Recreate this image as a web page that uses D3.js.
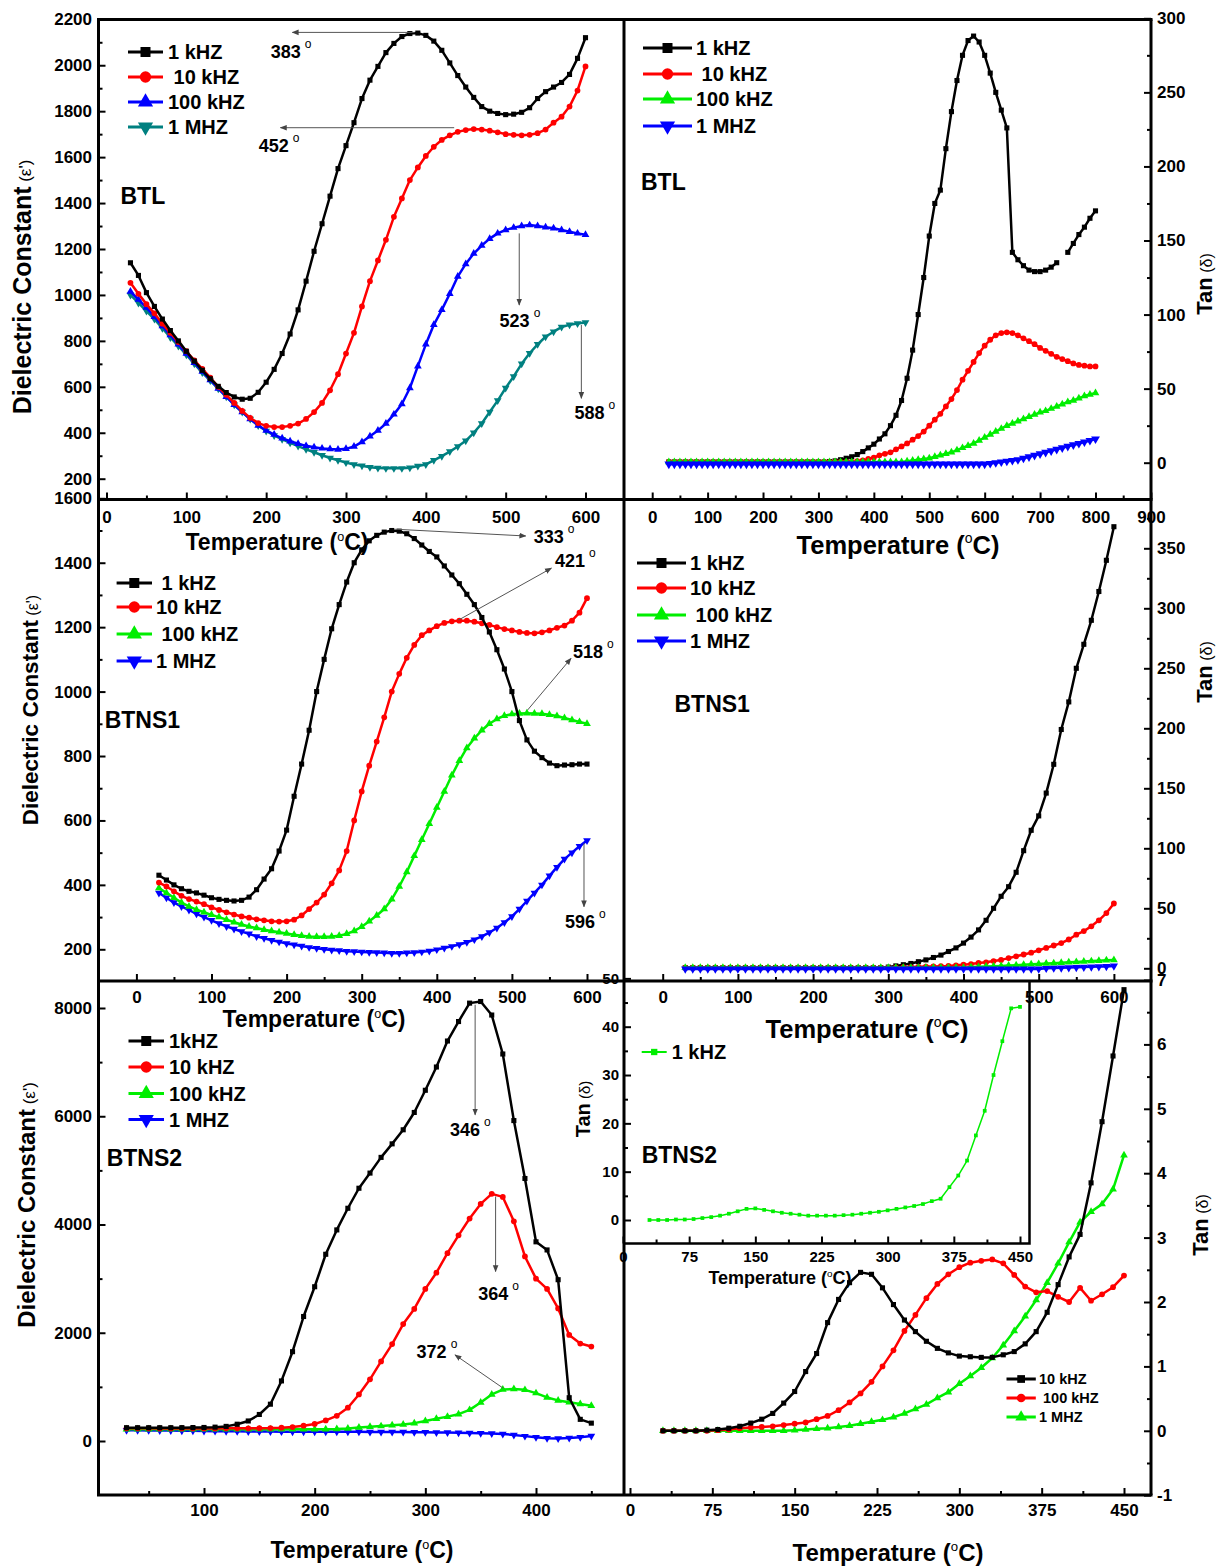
<!DOCTYPE html>
<html>
<head>
<meta charset="utf-8">
<script src="https://cdn.jsdelivr.net/npm/d3@7"></script>
<style>
body { margin: 0; background: #fff; }
</style>
</head>
<body>
<svg id="chart" width="1222" height="1566"></svg>
<script>
// ---- temperature grids (deg C) ----
var tempA = d3.range(30, 601, 10);   // BTL eps, BTNS1 eps, BTNS1 tan
var tempB = d3.range(30, 801, 10);   // BTL tan
var tempE = d3.range(30, 451, 10);   // BTNS2 eps, BTNS2 tan, inset

// ---- BTL dielectric constant ----
var btlEps1k = [1140,1085,1010,950,895,845,800,755,712,672,
  635,602,575,556,546,550,576,620,676,745,
  830,935,1060,1190,1310,1430,1550,1650,1750,1855,
  1935,1995,2055,2095,2125,2138,2140,2130,2105,2065,
  2010,1955,1905,1860,1820,1800,1790,1785,1787,1795,
  1815,1855,1885,1905,1925,1960,2030,2120];
var btlEps10k = [1053,1005,960,920,875,835,795,755,715,678,
  640,600,565,530,495,465,442,430,425,425,
  430,440,460,490,530,585,655,745,835,950,
  1060,1150,1240,1340,1420,1500,1555,1605,1645,1675,
  1695,1710,1718,1722,1720,1715,1708,1700,1697,1695,
  1697,1704,1720,1750,1776,1820,1890,1995];
var btlEps100k = [1015,980,945,905,865,825,785,745,705,667,
  630,593,557,522,490,460,432,410,392,376,
  363,352,343,337,332,329,327,330,340,360,
  385,410,440,480,525,595,690,785,870,935,
  1005,1080,1135,1180,1215,1245,1268,1283,1293,1300,
  1304,1300,1295,1290,1283,1275,1268,1262];
var btlEps1M = [1000,965,930,895,855,815,778,740,700,662,
  627,592,557,522,490,460,432,408,388,372,
  356,342,328,315,302,290,280,270,262,256,
  250,247,245,245,245,248,255,262,280,298,
  318,340,365,400,440,490,540,595,645,700,
  746,785,818,840,860,870,876,880];

// ---- BTL tan delta ----
var btlTan1k = [0.5,0.5,0.5,0.5,0.5,0.5,0.5,0.5,0.5,0.5,
  0.5,0.5,0.5,0.5,0.5,0.5,0.5,0.5,0.5,0.5,
  0.5,0.5,0.5,0.5,0.5,0.5,0.5,0.5,0.5,
  0.8,1.2,2,3,4,5.5,7.5,10,12.5,16,
  19.5,25,32,42,57,76,100,125,153,175,
  184,212,237,258,275,285,288,284,275,263,
  250,238,226,142,137,133,130,129,129,130,
  132,135,null,142,148,154,159,165,170];
var btlTan10k = [0.5,0.5,0.5,0.5,0.5,0.5,0.5,0.5,0.5,0.5,
  0.5,0.5,0.5,0.5,0.5,0.5,0.5,0.5,0.5,0.5,
  0.5,0.5,0.5,0.5,0.5,0.5,0.5,0.5,0.5,0.5,
  0.5,0.5,0.5,0.5,
  1,1.5,2.5,3.5,5,6,7,9,11,13,
  15.5,18,21,25,29,33,38,43,49,56,
  62,68,74,79,83,86,87.5,88,87.5,86,
  84,82,80,77.5,75.5,73.5,71.5,70,68.5,67,
  66,65.5,65,65];
var btlTan100k = [0.5,0.5,0.5,0.5,0.5,0.5,0.5,0.5,0.5,0.5,
  0.5,0.5,0.5,0.5,0.5,0.5,0.5,0.5,0.5,0.5,
  0.5,0.5,0.5,0.5,0.5,0.5,0.5,0.5,0.5,0.5,
  0.5,0.5,0.5,0.5,0.5,0.5,0.5,0.5,0.5,0.5,
  0.5,0.5,0.5,
  1,1.5,2,2.5,3,4,5,6,7,8.5,
  10,11.5,13,15,17,19,21,23,25,26.5,
  28,29.5,31,32.5,34,35,36.5,38,39.5,41,
  42,43.5,45,46,47];
var btlTan1M = [-1,-1,-1,-1,-1,-1,-1,-1,-1,-1,
  -1,-1,-1,-1,-1,-1,-1,-1,-1,-1,
  -1,-1,-1,-1,-1,-1,-1,-1,-1,-1,
  -1,-1,-1,-1,-1,-1,-1,-1,-1,-1,
  -1,-1,-1,-1,-1,-1,-1,-1,-1,-1,
  -1,-1,-1,-1,-1,-1,-1,-1,
  -0.5,0,0.5,1,1.5,2,3,4,5,6,
  7,8,9,10,11,12,13,14,15,16];

// ---- BTNS1 dielectric constant ----
var btns1Eps1k = [430,415,400,388,380,375,368,360,355,352,
  350,352,362,385,418,450,505,570,675,775,
  880,1000,1100,1195,1270,1340,1400,1440,1468,1485,
  1495,1500,1498,1490,1475,1455,1435,1418,1390,1362,
  1335,1302,1270,1230,1185,1130,1070,1000,910,850,
  815,795,778,770,772,773,775,775];
var btns1Eps10k = [407,395,380,366,356,348,340,330,322,315,
  308,302,298,293,290,287,286,287,292,305,
  325,345,370,405,445,505,600,690,770,845,
  920,1000,1055,1105,1145,1175,1190,1203,1213,1218,
  1220,1220,1217,1212,1207,1200,1194,1190,1185,1182,
  1181,1184,1190,1198,1205,1220,1245,1290];
var btns1Eps100k = [390,375,360,345,333,323,315,307,300,292,
  284,277,271,266,261,257,253,249,245,242,
  240,239,239,240,242,248,257,270,287,305,
  325,355,395,440,490,540,590,640,690,740,
  785,825,855,880,900,915,925,930,932,933,
  932,931,928,924,918,912,906,900];
var btns1Eps1M = [375,360,345,333,322,310,300,290,280,271,
  263,255,248,240,234,228,223,218,214,210,
  206,203,200,198,196,194,193,192,191,190,
  189,188,188,189,190,192,195,199,204,209,
  215,222,230,240,252,266,283,302,325,350,
  375,400,428,455,480,500,520,538];

// ---- BTNS1 tan delta ----
var btns1Tan1k = [0.5,0.5,0.5,0.5,0.5,0.5,0.5,0.5,0.5,0.5,
  0.5,0.5,0.5,0.5,0.5,0.5,0.5,0.5,0.5,0.5,
  0.5,0.5,0.5,0.5,0.5,0.5,0.5,
  1,2,3,
  4,5.5,7,9,11,14,17,21,26,32,
  40,50,60,68,80,98,115,127,146,170,
  199,222,250,270,290,314,340,368];
var btns1Tan10k = [0.5,0.5,0.5,0.5,0.5,0.5,0.5,0.5,0.5,0.5,
  0.5,0.5,0.5,0.5,0.5,0.5,0.5,0.5,0.5,0.5,
  0.5,0.5,0.5,0.5,0.5,0.5,0.5,
  0.5,0.7,0.9,1,1.2,1.4,1.6,1.8,
  2,2.5,3,3.5,4.5,5,6,7,8.5,10,
  11.5,13,15,17,19,21,24,28,31,35,
  40,46,54];
var btns1Tan100k = [0.5,0.5,0.5,0.5,0.5,0.5,0.5,0.5,0.5,0.5,
  0.5,0.5,0.5,0.5,0.5,0.5,0.5,0.5,0.5,0.5,
  0.5,0.5,0.5,0.5,0.5,0.5,0.5,0.5,0.5,0.5,
  0.5,0.5,0.5,0.5,0.5,0.5,0.5,0.5,
  1,1.2,1.5,1.8,2,2.3,2.6,3,3.3,3.6,
  4,4.3,4.6,5,5.3,5.6,6,6.3,6.7,7];
var btns1Tan1M = [-0.5,-0.5,-0.5,-0.5,-0.5,-0.5,-0.5,-0.5,-0.5,-0.5,
  -0.5,-0.5,-0.5,-0.5,-0.5,-0.5,-0.5,-0.5,-0.5,-0.5,
  -0.5,-0.5,-0.5,-0.5,-0.5,-0.5,-0.5,-0.5,-0.5,-0.5,
  -0.5,-0.5,-0.5,-0.5,-0.5,-0.5,-0.5,-0.5,-0.5,-0.5,
  -0.5,-0.5,-0.5,-0.5,-0.5,-0.5,-0.5,-0.5,
  0,0.2,0.4,0.6,0.8,1,1.2,1.4,1.6,2];

// ---- BTNS2 dielectric constant ----
var btns2Eps1k = [246,246,246,246,246,247,248,250,256,270,
  310,370,490,680,1110,1650,2300,2850,3450,3900,
  4300,4670,4950,5240,5490,5750,6070,6480,6910,7390,
  7750,8090,8120,7870,7150,5920,4850,3680,3530,2980,
  800,400,330];
var btns2Eps10k = [235,235,234,233,232,232,232,232,232,234,
  235,235,236,238,245,258,282,315,380,465,
  615,860,1140,1470,1790,2160,2440,2810,3110,3470,
  3800,4110,4380,4566,4510,4060,3410,3000,2810,2450,
  1960,1800,1745];
var btns2Eps100k = [218,218,217,217,216,216,215,215,215,215,
  215,215,215,215,215,215,215,215,216,220,
  230,248,262,275,290,305,330,370,410,450,
  495,575,710,860,950,960,945,885,805,750,
  715,685,650];
var btns2Eps1M = [200,198,196,194,192,190,188,185,182,180,
  178,176,175,174,173,172,172,171,170,170,
  170,169,168,167,166,165,163,160,158,155,
  152,148,145,140,130,112,90,70,52,48,
  55,70,92];

// ---- BTNS2 tan delta ----
var btns2Tan10k = [0,0,0,0,0.01,0.02,0.04,0.07,0.12,0.18,
  0.27,0.43,0.61,0.92,1.2,1.68,2.04,2.3,2.46,2.43,
  2.22,1.96,1.72,1.54,1.39,1.28,1.21,1.16,1.15,1.14,
  1.14,1.18,1.23,1.35,1.54,1.84,2.27,2.7,3.05,3.85,
  4.8,5.82,6.85];
var btns2Tan100k = [0,0,0,0,0,0.01,0.02,0.04,0.05,0.06,
  0.07,0.09,0.11,0.13,0.18,0.23,0.32,0.44,0.58,0.76,
  1.0,1.25,1.55,1.8,2.06,2.28,2.43,2.54,2.61,2.64,
  2.66,2.6,2.42,2.24,2.15,2.17,2.08,2.0,2.22,2.02,
  2.12,2.23,2.41];
var btns2Tan1M = [0,0,0,0,0,0,0,0,0,0,
  0,0,0.01,0.02,0.03,0.04,0.06,0.08,0.11,0.14,
  0.17,0.21,0.27,0.34,0.41,0.51,0.6,0.73,0.85,0.98,
  1.13,1.33,1.55,1.78,2.03,2.3,2.6,2.93,3.24,3.4,
  3.52,3.75,4.28];
// inset: BTNS2 tan delta at 1 kHZ
var btns2TanInset1k = [0,0,0,0.1,0.1,0.2,0.4,0.6,0.9,1.3,
  1.8,2.3,2.4,2.1,1.8,1.5,1.3,1.1,0.9,0.9,
  0.9,0.9,1.0,1.1,1.3,1.5,1.7,2.0,2.3,2.6,
  2.9,3.3,3.9,4.4,6.8,9.2,12.3,17.5,22.6,30,
  37,43.8,44.1];

// ---- legend labels ----
var legA = ["1 kHZ", "\u00a010 kHZ", "100 kHZ", "1 MHZ"];
var legB = ["1 kHZ", "\u00a010 kHZ", "100 kHZ", "1 MHZ"];
var legC = ["\u00a01 kHZ", "10 kHZ", "\u00a0100 kHZ", "1 MHZ"];
var legD = ["1 kHZ", "10 kHZ", "\u00a0100 kHZ", "1 MHZ"];
var legE = ["1kHZ", "10 kHZ", "100 kHZ", "1 MHZ"];
var legF = ["10 kHZ", "\u00a0100 kHZ", "1 MHZ"];
var legInset = ["1 kHZ"];

// ---- peak annotations (data coords) ----
var annA = [
  {label: "383", tx: 205.6, tv: 2031, x1: 386, v1: 2143, x2: 232.8, v2: 2143},
  {label: "452", tx: 190.8, tv: 1622, x1: 435.5, v1: 1728, x2: 217.9, v2: 1728},
  {label: "523", tx: 492.4, tv: 860, x1: 517, v1: 1268, x2: 517, v2: 956},
  {label: "588", tx: 586.2, tv: 460, x1: 594.8, v1: 869, x2: 594.8, v2: 550}
];
var annC = [
  {label: "333", tx: 529, tv: 1461, x1: 344.7, v1: 1504, x2: 518.4, v2: 1483},
  {label: "421", tx: 557.4, tv: 1387, x1: 428.9, v1: 1222, x2: 552.6, v2: 1383},
  {label: "518", tx: 581.4, tv: 1104, x1: 521, v1: 943, x2: 578.7, v2: 1103},
  {label: "596", tx: 570.7, tv: 266, x1: 596, v1: 529, x2: 596, v2: 332}
];
var annE = [
  {label: "346", tx: 322.2, tv: 5626, x1: 345, v1: 8060, x2: 345, v2: 6026},
  {label: "364", tx: 347.8, tv: 2614, x1: 363.5, v1: 4517, x2: 363.5, v2: 3131},
  {label: "372", tx: 292.1, tv: 1533, x1: 370.4, v1: 975, x2: 326.8, v2: 1591}
];

var BLACK = "#000000", RED = "#ff0000", BLUE = "#0000ff", GREEN = "#00ee00", TEAL = "#008080";
var FONT = "'Liberation Sans', Arial, Helvetica, sans-serif";

var svg = d3.select("#chart")
  .attr("font-family", FONT)
  .attr("font-weight", "bold");

svg.append("defs").append("marker")
  .attr("id", "arrow")
  .attr("viewBox", "0 0 10 10")
  .attr("refX", 9).attr("refY", 5)
  .attr("markerWidth", 7).attr("markerHeight", 7)
  .attr("orient", "auto")
  .append("path").attr("d", "M0,1L10,5L0,9z").attr("fill", "#444");

// frame edges
var L = 98.5, M = 624, R = 1151, T = 19.5, R1 = 499.5, R2 = 981, B = 1495;

function lin(v1, p1, v2, p2) { return d3.scaleLinear().domain([v1, v2]).range([p1, p2]); }

// scales, calibrated from two tick positions each
var xA = lin(0, 106.5, 600, 585.5), yA = lin(200, 478.7, 2200, 19.3);
var xB = lin(0, 652.2, 800, 1095.5), yB = lin(0, 462.7, 300, 18.3);
var xC = lin(0, 136.4, 600, 587), yC = lin(200, 949.3, 1600, 498.3);
var xD = lin(0, 662.7, 600, 1113.9), yD = lin(0, 968.3, 350, 548.3);
var xE = lin(100, 204, 400, 536), yE = lin(0, 1441, 8000, 1008);
var xF = lin(0, 630, 450, 1124), yF = lin(0, 1430.8, 7, 980);
var xI = lin(0, 623, 450, 1020), yI = lin(0, 1220, 40, 1026.7);

function symbolFor(shape) {
  if (shape === "circle") return d3.symbolCircle;
  if (shape === "square") return d3.symbolSquare;
  return d3.symbolTriangle;
}

function marker(g, shape, color, size, px, py) {
  g.append("path")
    .attr("d", d3.symbol().type(symbolFor(shape)).size(size)())
    .attr("transform", "translate(" + px + "," + py + ")" + (shape === "down" ? " rotate(180)" : ""))
    .attr("fill", color);
}

function series(x, y, temps, vals, color, shape, size, width) {
  var pts = temps.map(function(t, i) { return {t: t, v: vals[i]}; });
  var g = svg.append("g");
  var line = d3.line()
    .defined(function(d) { return d.v !== null && d.v !== undefined; })
    .x(function(d) { return x(d.t); })
    .y(function(d) { return y(d.v); });
  g.append("path").datum(pts)
    .attr("d", line)
    .attr("fill", "none")
    .attr("stroke", color)
    .attr("stroke-width", width)
    .attr("stroke-linejoin", "round");
  pts.forEach(function(d) {
    if (d.v !== null && d.v !== undefined) marker(g, shape, color, size, x(d.t), y(d.v));
  });
}

function axis(orient, scale, pos, majors, minors, pad, fs) {
  var gen = orient === "left" ? d3.axisLeft : orient === "right" ? d3.axisRight : d3.axisBottom;
  var tr = orient === "bottom" ? "translate(0," + pos + ")" : "translate(" + pos + ",0)";
  var g = svg.append("g").attr("transform", tr);
  g.call(gen(scale).tickValues(majors).tickSize(-7).tickPadding(pad)
    .tickFormat(function(d) { return String(d); }));
  var g2 = svg.append("g").attr("transform", tr);
  g2.call(gen(scale).tickValues(minors).tickSize(-4).tickFormat(""));
  [g, g2].forEach(function(s) {
    s.select(".domain").remove();
    s.selectAll("line").attr("stroke", "#000").attr("stroke-width", 2);
  });
  g.attr("font-size", fs).attr("font-family", FONT).attr("font-weight", "bold");
  g.selectAll("text").attr("fill", "#000");
}

function xTitle(cx, cy, fs) {
  var t = svg.append("text")
    .attr("x", cx).attr("y", cy + 0.36 * fs)
    .attr("text-anchor", "middle")
    .attr("font-size", fs);
  t.append("tspan").text("Temperature (");
  t.append("tspan").attr("font-size", fs * 0.55).attr("font-weight", "normal")
    .attr("dy", -fs * 0.42).text("o");
  t.append("tspan").attr("dy", fs * 0.42).text("C)");
}

function yTitle(cx, cy, main, sub, fs, fs2) {
  var t = svg.append("text")
    .attr("transform", "translate(" + (cx + 0.36 * fs) + "," + cy + ") rotate(-90)")
    .attr("text-anchor", "middle")
    .attr("font-size", fs);
  t.append("tspan").text(main);
  t.append("tspan").attr("font-size", fs2).attr("font-weight", "normal").text("\u00a0" + sub);
}

function label(x, y, txt, fs) {
  svg.append("text").attr("x", x).attr("y", y).attr("font-size", fs).text(txt);
}

function legend(x1, x2, xt, ys, labels, colors, shapes, fs, msize, lw) {
  var g = svg.append("g");
  labels.forEach(function(lab, i) {
    g.append("line").attr("x1", x1).attr("x2", x2).attr("y1", ys[i]).attr("y2", ys[i])
      .attr("stroke", colors[i]).attr("stroke-width", lw);
    marker(g, shapes[i], colors[i], msize, (x1 + x2) / 2, ys[i]);
    g.append("text").attr("x", xt).attr("y", ys[i] + 0.36 * fs)
      .attr("font-size", fs).text(lab);
  });
}

function annotate(x, y, list) {
  list.forEach(function(a) {
    svg.append("line")
      .attr("x1", x(a.x1)).attr("y1", y(a.v1))
      .attr("x2", x(a.x2)).attr("y2", y(a.v2))
      .attr("stroke", "#555").attr("stroke-width", 1)
      .attr("marker-end", "url(#arrow)");
    var t = svg.append("text").attr("x", x(a.tx)).attr("y", y(a.tv)).attr("font-size", 18);
    t.append("tspan").text(a.label);
    t.append("tspan").attr("dx", 4).attr("dy", -10).attr("font-size", 12)
      .attr("font-weight", "normal").text("o");
  });
}

var S4 = ["square", "circle", "triangle", "down"];
var MS = 26, LW = 2.5;

// ---------- row 1 : BTL ----------
series(xA, yA, tempA, btlEps1M, TEAL, "down", MS, LW);
series(xA, yA, tempA, btlEps100k, BLUE, "triangle", MS, LW);
series(xA, yA, tempA, btlEps10k, RED, "circle", MS, LW);
series(xA, yA, tempA, btlEps1k, BLACK, "square", MS, LW);
axis("left", yA, L, d3.range(200, 2201, 200), d3.range(300, 2101, 200), 6.5, 17);
axis("bottom", xA, R1, d3.range(0, 601, 100), d3.range(50, 551, 100), 11, 17);
legend(128, 163, 168, [52, 77, 102, 127], legA, [BLACK, RED, BLUE, TEAL], S4, 20, 100, 3);
label(120.5, 204, "BTL", 23);
annotate(xA, yA, annA);
yTitle(22, 287, "Dielectric Constant", "(\u03b5')", 25, 17);
xTitle(277, 542, 23);

series(xB, yB, tempB, btlTan1k, BLACK, "square", MS, LW);
series(xB, yB, tempB, btlTan10k, RED, "circle", MS, LW);
series(xB, yB, tempB, btlTan100k, GREEN, "triangle", MS, LW);
series(xB, yB, tempB, btlTan1M, BLUE, "down", 34, LW);
axis("right", yB, R, d3.range(0, 301, 50), d3.range(25, 276, 50), 6, 17);
axis("bottom", xB, R1, d3.range(0, 901, 100), d3.range(50, 851, 100), 11, 17);
legend(643, 692, 696, [48, 74, 99, 126], legB, [BLACK, RED, GREEN, BLUE], S4, 20, 100, 3);
label(641, 190, "BTL", 23);
yTitle(1204, 284, "Tan", "(\u03b4)", 22, 16);
xTitle(898, 545, 25.5);

// ---------- row 2 : BTNS1 ----------
series(xC, yC, tempA, btns1Eps1M, BLUE, "down", MS, LW);
series(xC, yC, tempA, btns1Eps100k, GREEN, "triangle", MS, LW);
series(xC, yC, tempA, btns1Eps10k, RED, "circle", MS, LW);
series(xC, yC, tempA, btns1Eps1k, BLACK, "square", MS, LW);
axis("left", yC, L, d3.range(200, 1601, 200), d3.range(300, 1501, 200), 6.5, 17);
axis("bottom", xC, R2, d3.range(0, 601, 100), d3.range(50, 551, 100), 9.5, 17);
legend(116.6, 152, 156, [583, 607, 634, 661], legC, [BLACK, RED, GREEN, BLUE], S4, 20, 100, 3);
label(104.7, 728, "BTNS1", 23);
annotate(xC, yC, annC);
yTitle(30, 710, "Dielectric Constant", "(\u03b5')", 22.5, 16);
xTitle(314, 1019, 23);

series(xD, yD, tempA, btns1Tan1k, BLACK, "square", MS, LW);
series(xD, yD, tempA, btns1Tan10k, RED, "circle", MS, LW);
series(xD, yD, tempA, btns1Tan100k, GREEN, "triangle", MS, LW);
series(xD, yD, tempA, btns1Tan1M, BLUE, "down", 30, LW);
axis("right", yD, R, d3.range(0, 351, 50), d3.range(25, 376, 50), 6, 17);
axis("bottom", xD, R2, d3.range(0, 601, 100), d3.range(50, 551, 100), 9.5, 17);
legend(637, 686, 690, [563, 588, 615, 641], legD, [BLACK, RED, GREEN, BLUE], S4, 20, 100, 3);
label(674.5, 711.5, "BTNS1", 23);
yTitle(1204, 672, "Tan", "(\u03b4)", 22, 16);
xTitle(867, 1029, 25.5);

// ---------- row 3 : BTNS2 ----------
series(xE, yE, tempE, btns2Eps1M, BLUE, "down", MS, LW);
series(xE, yE, tempE, btns2Eps100k, GREEN, "triangle", MS, LW);
series(xE, yE, tempE, btns2Eps10k, RED, "circle", MS, LW);
series(xE, yE, tempE, btns2Eps1k, BLACK, "square", MS, LW);
axis("left", yE, L, d3.range(0, 8001, 2000), d3.range(1000, 7001, 2000), 6.5, 17);
axis("bottom", xE, B, d3.range(100, 401, 100), d3.range(50, 451, 100), 9, 17);
legend(128.5, 164, 169, [1041, 1067, 1093.5, 1119.5], legE, [BLACK, RED, GREEN, BLUE], S4, 20, 100, 3);
label(106.7, 1166, "BTNS2", 23);
annotate(xE, yE, annE);
yTitle(26, 1205, "Dielectric Constant", "(\u03b5')", 24, 17);
xTitle(362, 1550, 23);

series(xF, yF, tempE, btns2Tan1M, GREEN, "triangle", MS, LW);
series(xF, yF, tempE, btns2Tan100k, RED, "circle", MS, LW);
series(xF, yF, tempE, btns2Tan10k, BLACK, "square", MS, LW);
axis("right", yF, R, d3.range(-1, 8, 1), d3.range(-0.5, 7, 1), 6, 17);
axis("bottom", xF, B, d3.range(0, 451, 75), d3.range(37.5, 451, 75), 9, 17);
legend(1006.5, 1035.8, 1039, [1379, 1398, 1417], legF, [BLACK, RED, GREEN], ["square", "circle", "triangle"], 14.5, 60, 3);
yTitle(1200, 1225, "Tan", "(\u03b4)", 22, 16);
xTitle(888, 1552, 24);

// inset inside BTNS2 tan panel
var INR = 1029.5, INB = 1243.5;
series(xI, yI, tempE, btns2TanInset1k, GREEN, "square", 14, 1.5);
axis("left", yI, M, d3.range(0, 51, 10), d3.range(5, 46, 10), 5, 15);
axis("bottom", xI, INB, d3.range(0, 451, 75), d3.range(37.5, 451, 75), 8, 15);
legend(641.7, 666.7, 671.7, [1052], legInset, [GREEN], ["square"], 20, 40, 2);
label(641.7, 1163, "BTNS2", 23);
yTitle(583, 1109, "Tan", "(\u03b4)", 20, 15);
xTitle(780, 1278, 18);
svg.append("path")
  .attr("d", "M" + M + "," + INB + "H" + INR + "V" + R2)
  .attr("fill", "none").attr("stroke", "#000").attr("stroke-width", 2.5);

// ---------- frame ----------
var frame = svg.append("g").attr("stroke", "#000").attr("stroke-width", 3).attr("fill", "none");
[T, R1, R2, B].forEach(function(yy) {
  frame.append("line").attr("x1", L - 1.5).attr("x2", R + 1.5).attr("y1", yy).attr("y2", yy);
});
[L, M, R].forEach(function(xx) {
  frame.append("line").attr("x1", xx).attr("x2", xx).attr("y1", T).attr("y2", B);
});
</script>
</body>
</html>
